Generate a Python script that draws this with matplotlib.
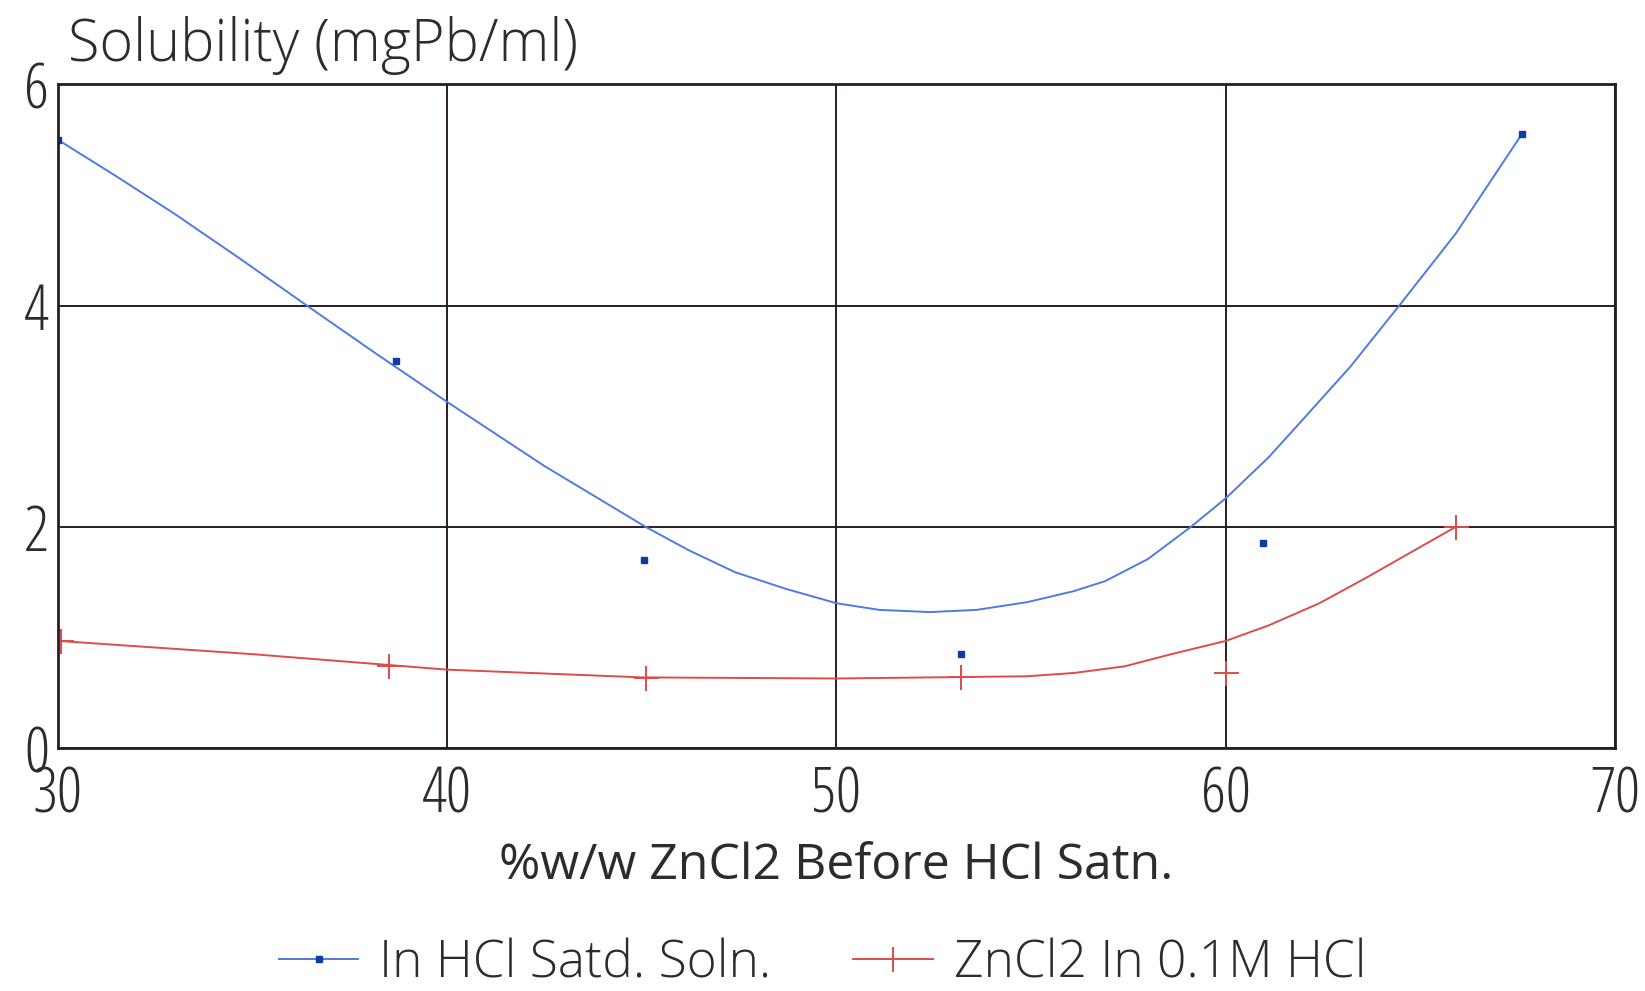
import matplotlib
matplotlib.use("Agg")
import matplotlib.pyplot as plt
from matplotlib.lines import Line2D

plt.rcParams['font.family'] = ['Open Sans', 'DejaVu Sans']
plt.rcParams['font.weight'] = 300

# measured points
hcl_x = [30.0, 38.7, 45.05, 53.2, 60.95, 67.6]
hcl_y = [5.5, 3.5, 1.7, 0.85, 1.85, 5.55]
zn_x = [30.1, 38.5, 45.1, 53.2, 60.0, 65.9]
zn_y = [0.97, 0.74, 0.63, 0.64, 0.68, 2.0]

# fitted curves as drawn on the chart
hcl_fit_x = [30.0, 31.5, 33.0, 34.7, 36.4, 38.2, 40.0, 42.5, 45.1, 46.2, 47.4,
             48.7, 50.0, 51.1, 52.4, 53.6, 54.9, 56.1, 56.9, 58.0, 59.1, 60.0,
             61.1, 62.0, 63.2, 64.45, 65.9, 67.6]
hcl_fit_y = [5.5, 5.17, 4.83, 4.42, 4.0, 3.56, 3.13, 2.55, 2.0, 1.79, 1.59,
             1.44, 1.31, 1.25, 1.23, 1.25, 1.32, 1.42, 1.51, 1.71, 2.0, 2.26,
             2.63, 2.98, 3.45, 4.0, 4.65, 5.55]
zn_fit_x = [30.0, 35.0, 40.0, 45.0, 50.0, 54.9, 56.1, 57.4, 58.6, 60.0, 61.1,
            62.4, 63.6, 64.9, 65.9]
zn_fit_y = [0.97, 0.85, 0.71, 0.64, 0.63, 0.65, 0.68, 0.74, 0.85, 0.97, 1.11,
            1.31, 1.54, 1.8, 2.0]

x_ticks = [30, 40, 50, 60, 70]
y_ticks = [0, 2, 4, 6]

blue_line = '#4f7be0'
blue_mark = '#0b3da8'
red = '#de4b4b'
ink = '#2a1c26'
txt = '#2e2a2e'

fig = plt.figure(figsize=(16.45, 9.91), dpi=100)
ax = fig.add_axes([0.035, 0.245, 0.947, 0.67])

ax.plot(hcl_fit_x, hcl_fit_y, color=blue_line, lw=1.4)
ax.plot(hcl_x, hcl_y, ls='none', marker='s', ms=5, color=blue_mark)
ax.plot(zn_fit_x, zn_fit_y, color=red, lw=1.4)
ax.plot(zn_x, zn_y, ls='none', marker='+', ms=18, mew=1.4, color=red)

ax.set_xlim(30, 70)
ax.set_ylim(0, 6)
ax.set_xticks(x_ticks)
ax.set_yticks(y_ticks)
ax.grid(True, color=ink, lw=1.4)
ax.set_axisbelow(True)
for s in ax.spines.values():
    s.set_color(ink)
    s.set_linewidth(2)
ax.tick_params(length=0, labelcolor=txt)
ax.tick_params(axis='x', pad=12)
ax.tick_params(axis='y', pad=6)
for lab in ax.get_xticklabels() + ax.get_yticklabels():
    lab.set_fontsize(45)
    lab.set_fontstretch('condensed')

ax.set_xlabel('%w/w ZnCl2 Before HCl Satn.', fontsize=36, color=txt, labelpad=10)
fig.text(68 / 1645, 1 - 61 / 991, 'Solubility (mgPb/ml)', fontsize=41.5,
         color=txt, va='baseline', ha='left')

handles = [
    Line2D([], [], color=blue_line, lw=1.4, marker='s', ms=5,
           mfc=blue_mark, mec=blue_mark),
    Line2D([], [], color=red, lw=1.4, marker='+', ms=18, mew=1.4),
]
fig.legend(handles, ['In HCl Satd. Soln.', 'ZnCl2 In 0.1M HCl'],
           loc='lower center', bbox_to_anchor=(0.5, -0.045), ncol=2,
           frameon=False, fontsize=37, handlelength=1.55, handletextpad=0.4,
           columnspacing=1.6, labelcolor=txt)

fig.savefig('out.png', dpi=100)
